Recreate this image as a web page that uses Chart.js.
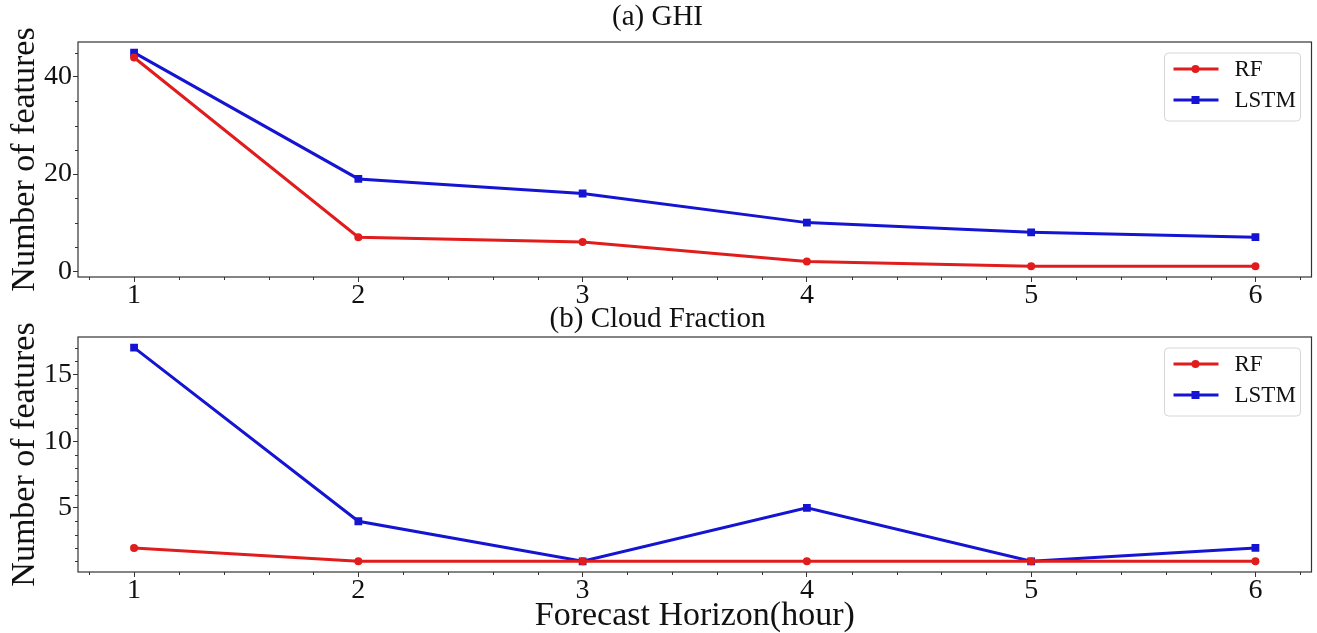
<!DOCTYPE html>
<html>
<head>
  <title>Number of features by forecast horizon</title>
  <script src="https://cdn.jsdelivr.net/npm/chart.js"></script>
  <style>
    body { margin: 0; background: white; width: 1317px; height: 633px; overflow: hidden; position: relative; }
    canvas { position: absolute; left: 0; }
    #ghi { top: 0; }
    #cloud { top: 295px; }
  </style>
</head>
<body>
  <canvas id="ghi" width="1317" height="310"></canvas>
  <canvas id="cloud" width="1317" height="338"></canvas>
  <script>
    const horizons = [1, 2, 3, 4, 5, 6];
    const seriesNames = ["RF", "LSTM"];
    const ghiRF = [44, 7, 6, 2, 1, 1];
    const ghiLSTM = [45, 19, 16, 10, 8, 7];
    const cloudRF = [2, 1, 1, 1, 1, 1];
    const cloudLSTM = [17, 4, 1, 5, 1, 2];
    const ghiTicks = [0, 20, 40];
    const cloudTicks = [5, 10, 15];

    const RED = "#e01c1c";
    const BLUE = "#1414d2";
    const FONT = "'Liberation Serif', 'Times New Roman', serif";
    const AXIS = "#333";

    // frame, minor ticks and a matplotlib-like legend drawn inside the plot
    const extras = {
      id: "extras",
      afterDraw(chart, args, opts) {
        const ctx = chart.ctx, a = chart.chartArea;
        const xs = chart.scales.x, ys = chart.scales.y;
        ctx.save();
        ctx.strokeStyle = AXIS;
        ctx.lineWidth = 1;
        // minor ticks
        ctx.beginPath();
        for (let k = 4; k <= 31; k++) {
          if (k % 5 === 0) continue;
          const px = Math.round(xs.getPixelForValue(k / 5)) + 0.5;
          ctx.moveTo(px, a.bottom); ctx.lineTo(px, a.bottom + 3);
        }
        for (let v = opts.minorStep; v < ys.max; v += opts.minorStep) {
          if (opts.major.includes(v)) continue;
          const py = Math.round(ys.getPixelForValue(v)) + 0.5;
          ctx.moveTo(a.left, py); ctx.lineTo(a.left - 3, py);
        }
        ctx.stroke();
        // frame
        ctx.lineWidth = 1.2;
        ctx.strokeRect(a.left, a.top, a.right - a.left, a.bottom - a.top);

        // legend
        const w = 136, h = 68;
        const bx = a.right - 11 - w, by = a.top + 11;
        ctx.beginPath();
        ctx.roundRect(bx, by, w, h, 4);
        ctx.fillStyle = "rgba(255,255,255,0.85)";
        ctx.fill();
        ctx.strokeStyle = "#d6d6d6";
        ctx.lineWidth = 1;
        ctx.stroke();
        chart.data.datasets.forEach((ds, i) => {
          const y = by + 16 + i * 31;
          ctx.strokeStyle = ds.borderColor;
          ctx.lineWidth = 3;
          ctx.beginPath();
          ctx.moveTo(bx + 9, y); ctx.lineTo(bx + 54, y);
          ctx.stroke();
          ctx.fillStyle = ds.borderColor;
          if (ds.pointStyle === "rect") {
            ctx.fillRect(bx + 31 - 4, y - 4, 8, 8);
          } else {
            ctx.beginPath(); ctx.arc(bx + 31, y, 4, 0, Math.PI * 2); ctx.fill();
          }
          ctx.fillStyle = "#111";
          ctx.font = "23px " + FONT;
          ctx.textBaseline = "middle";
          ctx.fillText(ds.label, bx + 70, y + 1);
        });
        ctx.restore();
      }
    };

    function makeChart(id, title, rf, lstm, yMin, yMax, yTicks, minorStep, titlePad, xTitle, xHeight) {
      const pts = vals => horizons.map((h, i) => ({ x: h, y: vals[i] }));
      return new Chart(document.getElementById(id), {
        type: "line",
        data: {
          datasets: [
            { label: seriesNames[0], data: pts(rf), borderColor: RED, backgroundColor: RED,
              borderWidth: 3, pointStyle: "circle", pointRadius: 4, pointBorderWidth: 0 },
            { label: seriesNames[1], data: pts(lstm), borderColor: BLUE, backgroundColor: BLUE,
              borderWidth: 3, pointStyle: "rect", pointRadius: 5.5, pointBorderWidth: 0 }
          ]
        },
        options: {
          responsive: false,
          animation: false,
          layout: { padding: { left: 0, right: 2, top: 0, bottom: 0 } },
          plugins: {
            legend: { display: false },
            tooltip: { enabled: false },
            title: {
              display: true, text: title, color: "#111",
              font: { family: FONT, size: 29, weight: "normal", lineHeight: 1 },
              padding: titlePad
            },
            extras: { minorStep: minorStep, major: yTicks }
          },
          scales: {
            x: {
              type: "linear", min: 0.75, max: 6.25,
              afterBuildTicks: s => { s.ticks = horizons.map(v => ({ value: v })); },
              afterFit: s => { s.height = xHeight; },
              border: { display: false },
              grid: { drawOnChartArea: false, tickLength: 5, color: AXIS },
              ticks: { color: "#111", padding: 0, maxRotation: 0, autoSkip: false,
                       font: { family: FONT, size: 28, lineHeight: 1 } },
              title: { display: !!xTitle, text: xTitle || "", color: "#111", padding: { top: 3, bottom: 0 },
                       font: { family: FONT, size: 34, lineHeight: 1 } }
            },
            y: {
              min: yMin, max: yMax,
              afterBuildTicks: s => { s.ticks = yTicks.map(v => ({ value: v })); },
              afterFit: s => { s.width = 78; },
              border: { display: false },
              grid: { drawOnChartArea: false, tickLength: 5, color: AXIS },
              ticks: { color: "#111", padding: 1,
                       font: { family: FONT, size: 28, lineHeight: 1 } },
              title: { display: true, text: "Number of features", color: "#111",
                       padding: { top: 8, bottom: 0 },
                       font: { family: FONT, size: 34, lineHeight: 1 } }
            }
          }
        },
        plugins: [extras]
      });
    }

    makeChart("ghi", "(a) GHI", ghiRF, ghiLSTM, -1.2, 47.2, ghiTicks, 5,
              { top: 3, bottom: 10 }, null, 33);
    makeChart("cloud", "(b) Cloud Fraction", cloudRF, cloudLSTM, 0.2, 17.8, cloudTicks, 1,
              { top: 10, bottom: 3 }, "Forecast Horizon(hour)", 61);
  </script>
</body>
</html>
